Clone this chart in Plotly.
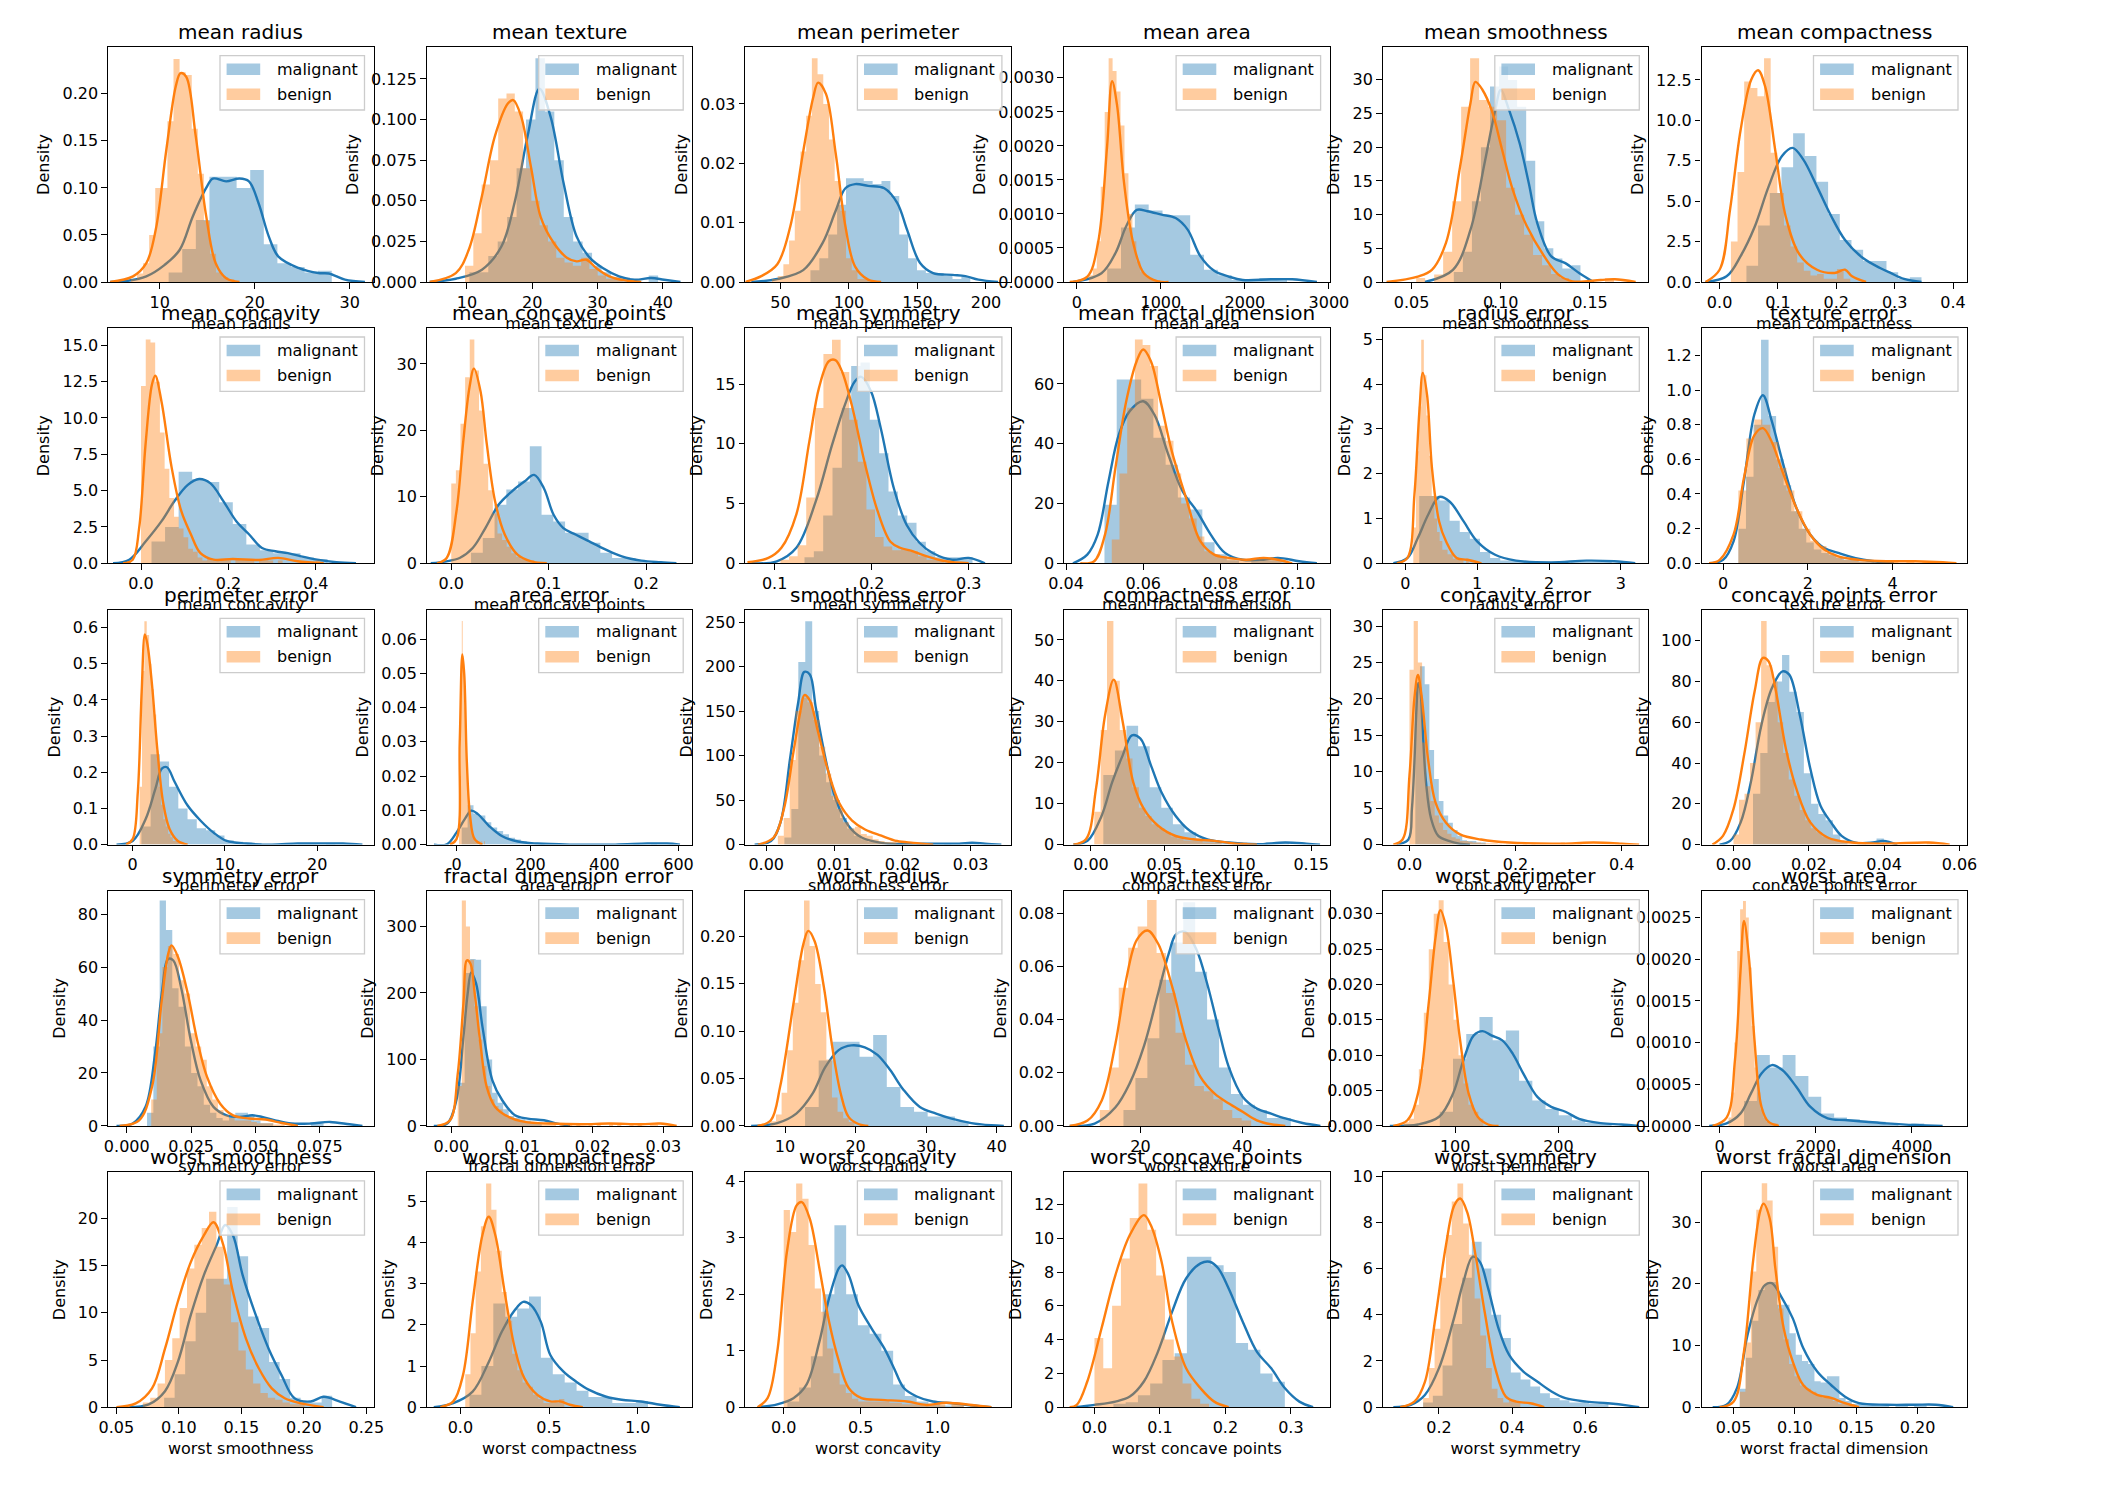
import plotly.graph_objects as go

# ---------------------------------------------------------------- data
FEATURES = ["mean radius", "mean texture", "mean perimeter", "mean area", "mean smoothness", "mean compactness",
            "mean concavity", "mean concave points", "mean symmetry", "mean fractal dimension", "radius error",
            "texture error", "perimeter error", "area error", "smoothness error", "compactness error",
            "concavity error", "concave points error", "symmetry error", "fractal dimension error", "worst radius",
            "worst texture", "worst perimeter", "worst area", "worst smoothness", "worst compactness",
            "worst concavity", "worst concave points", "worst symmetry", "worst fractal dimension"]
SERIES = ["malignant", "benign"]

# histogram bins (first edge, bin width) per feature
MAL_BIN_START = [10.95, 10.38, 71.9, 361.6, 0.0737, 0.046, 0.024, 0.0203, 0.1308, 0.04996,
                 0.1938, 0.362, 0.95, 14.0, 0.00267, 0.0084, 0.011, 0.00517, 0.00788, 0.00109,
                 12.84, 16.67, 85.1, 508.0, 0.0882, 0.0513, 0.024, 0.029, 0.1565, 0.055]
MAL_BIN_WIDTH = [1.43, 1.445, 6.48, 164.6, 0.00507, 0.02, 0.031, 0.01206, 0.00962, 0.00317,
                 0.141, 0.178, 1.0, 16.0, 0.00102, 0.0079, 0.00885, 0.00193, 0.00245, 0.00078,
                 1.93, 2.35, 12.8, 267.6, 0.0084, 0.0671, 0.0764, 0.0187, 0.0267, 0.00508]
BEN_BIN_START = [6.98, 9.71, 43.8, 143.5, 0.0526, 0.0194, 0.0, 0.0, 0.106, 0.05185,
                 0.1115, 0.36, 0.757, 6.8, 0.00171, 0.00225, 0.0, 0.0, 0.0095, 0.000895,
                 7.93, 12.02, 50.41, 185.0, 0.0712, 0.0273, 0.0, 0.0, 0.1566, 0.0552]
BEN_BIN_WIDTH = [0.64, 1.27, 4.16, 47.1, 0.00504, 0.01136, 0.0108, 0.00474, 0.00886, 0.002,
                 0.0367, 0.189, 0.257, 2.51, 0.00087, 0.00434, 0.00792, 0.001466, 0.00216, 0.000579,
                 0.793, 1.86, 4.8, 60.3, 0.00588, 0.0294, 0.0404, 0.01346, 0.01566, 0.00445]

# histogram densities: m = malignant, b = benign
m01 = [0.01, 0.035, 0.066, 0.112, 0.112, 0.10, 0.119, 0.04, 0.02, 0.016, 0.01, 0.012]
b01 = [0.003, 0.009, 0.02, 0.05, 0.1, 0.1, 0.171, 0.237, 0.223, 0.22, 0.163, 0.115, 0.065, 0.03, 0.01, 0.005, 0.003]
m02 = [0.006, 0.006, 0.016, 0.025, 0.04, 0.07, 0.10, 0.1377, 0.105, 0.075, 0.04, 0.025, 0.018, 0.01, 0.006, 0.003, 0.003, 0.0, 0.0, 0.004]
b02 = [0.01, 0.03, 0.06, 0.075, 0.113, 0.116, 0.105, 0.07, 0.05, 0.035, 0.025, 0.015, 0.012, 0.01, 0.015, 0.008, 0.004, 0.002, 0.002]
m03 = [0.002, 0.004, 0.008, 0.013, 0.0175, 0.0175, 0.017, 0.0165, 0.017, 0.0145, 0.008, 0.004, 0.002, 0.0015, 0.0015, 0.001, 0.0005, 0.001]
b03 = [0.0005, 0.001, 0.003, 0.007, 0.012, 0.022, 0.028, 0.0377, 0.035, 0.03, 0.024, 0.017, 0.012, 0.004, 0.002, 0.0005, 0.0005]
m04 = [0.0002, 0.0008, 0.00114, 0.00105, 0.00098, 0.00098, 0.0004, 0.00018, 0.0001, 0.00003, 0.00003, 0.00006, 0.00003]
b04 = [0.0001, 0.0002, 0.0006, 0.0014, 0.0025, 0.00329, 0.0031, 0.0028, 0.0023, 0.0016, 0.001, 0.0006, 0.0003, 0.00015, 0.0001, 0.00005, 0.00003, 0.00003]
m05 = [1.5, 4.5, 12, 20, 29, 32, 30, 26, 18, 9, 5, 3.5, 2, 2.5]
b05 = [0.6, 0, 1.1, 4.5, 12, 26, 33.2, 27, 26, 24, 14, 10, 7, 4, 2.5, 1.2, 0.6, 0, 0, 0, 0, 0.6]
m06 = [1.0, 3.5, 5.5, 7.1, 9.2, 7.8, 6.2, 4.2, 2.6, 2.0, 1.3, 1.3, 0.6, 0.2, 0.3]
b06 = [2.5, 6.8, 12.4, 12.0, 11.5, 13.84, 8.0, 5.5, 3.5, 2.2, 1.2, 0.7, 0.4, 0.5, 0.2, 0.2, 0.8, 0.2]
m07 = [1.5, 2.5, 6.3, 5.8, 5.6, 4.2, 2.7, 1.3, 0.9, 0.7, 0.7, 0.4, 0.3]
b07 = [12.2, 15.4, 15.2, 12.5, 9.0, 6.5, 4.5, 3.2, 2.4, 1.8, 1.0, 0.8, 0.4, 0.2, 0.3, 0.2, 0.2, 0.2, 0.2, 0.0,
       0.3, 0.2, 0.2, 0.2, 0.0, 0.2, 0.3, 0.2, 0, 0.2, 0, 0, 0, 0, 0, 0, 0, 0.2]
m08 = [1.6, 3.8, 8.8, 11.1, 12.3, 17.6, 7.3, 6.3, 4.6, 4.6, 3.1, 1.6, 0.8, 0.8, 0.4]
b08 = [12, 14, 21, 28, 33.7, 29, 23, 15, 11, 7.5, 4.5, 3.5, 2.5, 1.5, 1, 0.6, 0.5, 0.5]
m09 = [0.5, 1, 4, 8, 13, 16.5, 16.8, 12, 9.2, 6, 4, 3.4, 1.8, 1.0, 0.5, 0.5, 0.5, 0.5]
b09 = [0.3, 0.6, 1.5, 5.5, 13, 17.5, 18.7, 16, 12, 8.5, 4.5, 2.2, 1.4, 1.1, 1.2, 1.0, 0.6, 0.3, 0.3]
m10 = [19.6, 61.5, 61.5, 55, 42, 33, 22, 18, 7, 3, 1, 0, 1, 1, 1]
b10 = [8, 30, 52, 74.85, 73, 66, 46, 41, 30, 20, 15, 9, 4, 3, 2, 1.5, 1, 1, 1, 1.5, 2, 1]
m11 = [1.5, 1.5, 1.4, 0.95, 0.7, 0.55, 0.25, 0.12, 0.06, 0.06, 0.03, 0.0, 0.03, 0.0, 0.0, 0.03, 0.03, 0.03, 0.03]
b11 = [0.8, 2.5, 3.5, 4.99, 4.2, 3.3, 2.4, 1.5, 1.0, 0.7, 0.5, 0.3, 0.3, 0.2, 0.2, 0.1, 0.1, 0.1, 0.1, 0.0, 0.1]
m12 = [0.2, 0.5, 0.8, 1.29, 0.85, 0.6, 0.45, 0.3, 0.2, 0.12, 0.08, 0.06, 0.05, 0.03, 0.02, 0.02, 0.01, 0.02]
b12 = [0.42, 0.72, 0.83, 0.8, 0.7, 0.55, 0.42, 0.3, 0.2, 0.13, 0.1, 0.06, 0.04, 0.02, 0.02, 0.01, 0.01, 0.01,
       0.01, 0.01, 0, 0.01, 0, 0.01]
m13 = [0.05, 0.25, 0.23, 0.16, 0.1, 0.07, 0.045, 0.04, 0.025, 0.012, 0.008, 0.005, 0.004, 0, 0, 0, 0, 0.004, 0.004, 0, 0.004]
b13 = [0.16, 0.48, 0.618, 0.58, 0.5, 0.43, 0.36, 0.26, 0.16, 0.11, 0.07, 0.05, 0.03, 0.02, 0.01, 0.01, 0.01]
m14 = [0.005, 0.0115, 0.009, 0.0085, 0.0065, 0.005, 0.004, 0.003, 0.002, 0.0015, 0.001, 0.0005, 0.0003, 0.0003,
       0, 0, 0, 0, 0, 0, 0, 0, 0, 0, 0, 0, 0, 0, 0, 0.0003, 0, 0, 0.0003]
b14 = [0.01, 0.02, 0.045, 0.0653, 0.055, 0.05, 0.04, 0.035, 0.025, 0.015, 0.012, 0.008, 0.006, 0.004, 0.004, 0.003,
       0.002, 0.002, 0.001, 0.001, 0.001, 0, 0.001, 0, 0.001, 0, 0, 0.001]
m15 = [8, 40, 205, 251, 150, 100, 70, 50, 30, 18, 10, 6, 3, 2, 1, 1, 1, 0, 0, 1, 0, 0, 0, 1, 0, 0, 3, 1]
b15 = [10, 30, 95, 150, 165, 160, 140, 110, 80, 55, 40, 25, 18, 20, 12, 10, 6, 4, 3, 3, 1, 1, 1]
m16 = [17, 23, 29, 24, 14, 9, 5, 3, 1.5, 1, 0.5, 0.5, 0, 0, 0.5, 0.5]
b16 = [8, 28, 54.6, 40, 28, 21, 14, 9, 7, 5, 4, 3, 2, 1.5, 1, 1, 1, 0.5, 0.5, 0.5, 0, 0.5, 0, 0.5]
m17 = [22, 24.5, 22, 13, 9, 6, 4, 3, 2, 1.2, 0.6, 0.5, 0.5, 0.3, 0.3]
b17 = [24, 30.7, 25, 14, 8, 6, 4, 3, 2, 1.5, 1, 0.8, 0.5, 0.5, 0.4, 0.3, 0.3, 0.2, 0.2, 0.2, 0.2, 0.1, 0, 0.1, 0,
       0.1, 0, 0.1, 0, 0.1, 0, 0, 0, 0, 0, 0, 0.3, 0, 0, 0, 0.3, 0, 0, 0, 0, 0, 0, 0, 0, 0.3]
m18 = [25, 45, 70, 80, 93, 75, 65, 35, 20, 15, 12, 5, 2, 0, 0, 0, 0, 3]
b18 = [5, 22, 25, 40, 60, 109.7, 88, 80, 60, 45, 32, 24, 17, 12, 8, 6, 4, 3, 2, 2, 1, 1, 1, 1, 0, 0, 0, 1, 0, 0,
       0, 0, 0, 0, 0, 1]
m19 = [5, 30, 85.2, 74, 52, 45, 30, 20, 15, 8, 5, 3, 2, 4, 5, 5, 4, 2, 1, 1, 0, 0, 0, 0, 0, 0, 1, 1, 0]
b19 = [10, 35, 60, 68, 65, 55, 50, 35, 30, 25, 15, 10, 6, 4, 3, 2, 2, 2, 1.5, 1, 1, 1, 0.5, 0.5]
m20 = [65, 230, 251, 250, 180, 100, 50, 35, 25, 15, 12, 10, 8, 5, 5]
b20 = [60, 339, 300, 250, 180, 130, 90, 60, 40, 30, 25, 18, 12, 10, 8, 8, 5, 5, 4, 3, 3, 3, 3, 2, 0, 2, 0, 3, 0, 2,
       0, 0, 3, 0, 2, 0, 0, 3, 0, 2, 0, 0, 2, 0, 3, 0, 0, 2, 2, 0]
m21 = [0.02, 0.069, 0.089, 0.089, 0.073, 0.096, 0.041, 0.02, 0.015, 0.01, 0.01, 0.005]
b21 = [0.005, 0.012, 0.035, 0.08, 0.13, 0.175, 0.238, 0.19, 0.15, 0.12, 0.07, 0.03, 0.015, 0.008, 0.004]
m22 = [0.006, 0.018, 0.033, 0.055, 0.069, 0.0841, 0.058, 0.04, 0.022, 0.012, 0.008, 0.006, 0.003, 0.003]
b22 = [0.006, 0.022, 0.052, 0.067, 0.075, 0.085, 0.065, 0.05, 0.035, 0.023, 0.015, 0.013, 0.01, 0.006, 0.003, 0.002]
m23 = [0.002, 0.0095, 0.013, 0.0154, 0.0121, 0.0135, 0.0064, 0.0036, 0.0024, 0.0015, 0.0008, 0.0004, 0.0004]
b23 = [0.0005, 0.001, 0.003, 0.008, 0.016, 0.025, 0.03, 0.0319, 0.026, 0.02, 0.015, 0.01, 0.006, 0.003, 0.002, 0.001]
m24 = [0.0003, 0.00085, 0.0007, 0.00085, 0.0006, 0.00035, 0.00015, 0.0001, 0.00008, 0.00005, 0.00005, 0.00003, 0, 0.00003]
b24 = [0.0001, 0.0004, 0.001, 0.0021, 0.0026, 0.0027, 0.0025, 0.0019, 0.0012, 0.0007, 0.0004, 0.0002, 0.0001,
       0.00005, 0.00003, 0.00003, 0.00003]
m25 = [1.0, 3.5, 7, 10, 13.6, 13.6, 21.2, 16, 9.6, 8.4, 4.8, 3, 1, 0.5, 0.5, 1.2]
b25 = [0.5, 1, 2.5, 5, 7.3, 10.5, 14.7, 17.2, 19, 20.7, 17, 13, 9, 6, 4, 2.5, 1.5, 1, 0.8, 0.5, 0.3, 0.3]
m26 = [0.3, 1.0, 2.52, 2.2, 2.4, 2.69, 1.2, 0.8, 0.6, 0.4, 0.25, 0.25, 0.1, 0.1, 0.15]
b26 = [0.8, 1.8, 3.3, 4.4, 5.44, 4.8, 3.8, 2.8, 2.1, 1.3, 0.9, 0.6, 0.5, 0.3, 0.2, 0.1, 0.1, 0.1, 0.2]
m27 = [0.1, 0.35, 0.9, 2.0, 3.22, 2.0, 1.45, 1.3, 1.0, 0.4, 0.2, 0.1, 0.06, 0.03, 0.03]
b27 = [3.49, 3.1, 3.96, 3.69, 2.87, 2.1, 1.69, 1.04, 0.6, 0.4, 0.25, 0.15, 0.1, 0.1, 0.1, 0.1, 0.1, 0.08, 0.08,
       0.05, 0.05, 0.05, 0.05, 0.05, 0.05, 0.05, 0, 0.05, 0.05, 0, 0.05]
m28 = [0.2, 0.3, 0.7, 1.4, 2.8, 3.2, 8.9, 8.9, 8.4, 8.0, 3.8, 3.4, 2.0, 1.5]
b28 = [4.1, 2.3, 6.0, 8.8, 11.2, 13.24, 10.5, 7.8, 4.0, 3.0, 1.4, 0.5, 0.2]
m29 = [0.2, 0.5, 1.8, 3.6, 5.6, 7.16, 6.0, 4.0, 3.0, 1.5, 1.2, 0.9, 0.6, 0.4, 0.3, 0.2, 0.2, 0.15, 0.2]
b29 = [0.4, 1.7, 3.4, 5.6, 7.45, 8.9, 9.68, 7.95, 6.6, 4.7, 3.1, 1.7, 0.8, 0.4, 0.2, 0.3, 0.2]
m30 = [3, 8, 14, 19, 20, 20.3, 16.6, 16.6, 12, 8.5, 7.5, 7, 4.2, 4, 5, 5, 1.5, 1, 0.5, 0.5, 0.5, 0.5, 0.5, 0.5, 0,
       0.5, 0.5, 0, 0.5, 0.5]
b30 = [2.5, 10.5, 22, 32, 36.3, 33.5, 26, 16, 11, 7, 5, 3.5, 3, 2.5, 2, 1.5, 1.5, 1, 0.5, 0.5, 0.5]

# KDE curves as (x, density) points: mk = malignant, bk = benign
mk01 = [[4.8, 0], [6.5, 0.001], [8.6, 0.006], [10.5, 0.018], [12.1, 0.034], [13.5, 0.07], [14.9, 0.10], [15.6, 0.11],
        [17, 0.107], [18.4, 0.11], [19.4, 0.107], [20.4, 0.084], [21.5, 0.048], [22.5, 0.027], [24.6, 0.015],
        [26.7, 0.0095], [27.8, 0.009], [29.5, 0.0025], [31.6, 0]]
bk01 = [[4.8, 0], [7.2, 0.006], [8.6, 0.02], [9.6, 0.056], [10.7, 0.14], [11.7, 0.208], [12.2, 0.222], [12.8, 0.218],
        [13.8, 0.155], [14.9, 0.07], [15.9, 0.02], [17, 0.004], [18.4, 0]]
mk02 = [[4.3, 0], [8.3, 0.002], [12.3, 0.0076], [15.3, 0.022], [17.3, 0.049], [19.3, 0.09], [21.1, 0.119], [22.8, 0.102],
        [24.8, 0.061], [26.8, 0.028], [28.8, 0.015], [30.8, 0.0086], [33.3, 0.0035], [35.7, 0.0014], [38.2, 0.0025],
        [40.2, 0.0014], [42.7, 0]]
bk02 = [[4.3, 0], [8.3, 0.0055], [10.3, 0.02], [12.3, 0.053], [14.3, 0.09], [16.3, 0.11], [17.1, 0.112], [18.3, 0.102],
        [19.8, 0.071], [21.3, 0.04], [23.3, 0.024], [25.3, 0.015], [26.8, 0.0127], [28.3, 0.0137], [29.8, 0.0086],
        [31.8, 0.0035], [34.2, 0.001], [36.7, 0]]
mk03 = [[28.7, 0], [47.7, 0.0005], [66.6, 0.002], [80.8, 0.0066], [90.3, 0.012], [97.4, 0.0158], [104.5, 0.0165],
        [114, 0.0162], [125.8, 0.0158], [135.3, 0.0133], [142.4, 0.0088], [151.9, 0.0032], [161.4, 0.0015],
        [175.6, 0.0012], [185, 0.001], [194.5, 0.0004], [208.8, 0]]
bk03 = [[24, 0], [36, 0.001], [47.7, 0.003], [57.2, 0.0094], [66.6, 0.022], [73.8, 0.031], [77.5, 0.0336],
        [83.2, 0.0317], [90.3, 0.0217], [97.4, 0.0094], [104.5, 0.0026], [114, 0.0004], [123.5, 0]]
mk04 = [[-42, 0], [294, 0.00013], [462, 0.00043], [588, 0.00082], [714, 0.00106], [840, 0.00104], [1008, 0.00099],
        [1176, 0.00094], [1319, 0.00077], [1470, 0.00038], [1639, 0.00016], [1807, 0.00008], [1975, 0.00003],
        [2311, 0.00004], [2563, 0.00004], [2857, 0]]
bk04 = [[-84, 0], [126, 0.00008], [252, 0.00057], [361, 0.002], [420, 0.00295], [479, 0.0026], [563, 0.00145],
        [672, 0.00057], [798, 0.00013], [966, 0.00001], [1092, 0]]
mk05 = [[0.0575, 0], [0.0732, 1.8], [0.0831, 7.8], [0.0909, 17.6], [0.0969, 25.5], [0.1, 28.5], [0.1047, 25.5],
        [0.1106, 20.6], [0.1157, 14.7], [0.1205, 8.7], [0.1283, 3.8], [0.1362, 2.8], [0.1441, 1.3], [0.152, 0]]
bk05 = [[0.036, 0], [0.0535, 0.8], [0.0614, 1.8], [0.0693, 5.8], [0.0772, 17.1], [0.083, 26.5], [0.0858, 29.7],
        [0.0898, 28.5], [0.0949, 25.5], [0.1008, 19.6], [0.1067, 13.7], [0.1146, 8.3], [0.1244, 3.8], [0.1323, 1.1],
        [0.1402, 0.1], [0.156, 0.3], [0.164, 0.4], [0.1756, 0]]
mk06 = [[-0.024, 0], [0.012, 0.35], [0.036, 1.6], [0.06, 3.4], [0.084, 5.9], [0.107, 7.8], [0.125, 8.3], [0.143, 7.6],
        [0.167, 5.9], [0.191, 4.1], [0.215, 2.6], [0.245, 1.5], [0.275, 0.87], [0.293, 0.56], [0.316, 0.19], [0.346, 0]]
bk06 = [[-0.024, 0], [0.0, 0.76], [0.018, 4.5], [0.036, 9.4], [0.054, 12.5], [0.066, 13.1], [0.078, 12.1], [0.096, 8.0],
        [0.113, 4.1], [0.137, 1.7], [0.167, 0.76], [0.197, 0.56], [0.215, 0.76], [0.227, 0.35], [0.251, 0]]
mk07 = [[-0.064, 0], [-0.027, 0.25], [0.0104, 1.5], [0.047, 2.9], [0.077, 4.3], [0.107, 5.4], [0.133, 5.8],
        [0.159, 5.5], [0.188, 4.3], [0.218, 2.9], [0.247, 2.0], [0.277, 1.05], [0.307, 0.83], [0.336, 0.7],
        [0.366, 0.48], [0.403, 0.25], [0.447, 0.07], [0.492, 0]]
bk07 = [[-0.041, 0], [-0.019, 0.25], [-0.0044, 2.4], [0.0104, 8.2], [0.025, 12.3], [0.0326, 12.9], [0.047, 11.1],
        [0.07, 6.6], [0.092, 3.6], [0.114, 2.0], [0.136, 0.7], [0.166, 0.25], [0.21, 0.3], [0.27, 0.23], [0.314, 0.37],
        [0.358, 0.14], [0.418, 0]]
mk08 = [[-0.021, 0], [-0.005, 0.3], [0.0086, 0.8], [0.022, 2.3], [0.035, 5.3], [0.0485, 8.8], [0.062, 10.8],
        [0.075, 12.3], [0.085, 13.3], [0.095, 11.3], [0.105, 7.3], [0.115, 5.3], [0.128, 4.3], [0.1415, 3.3],
        [0.158, 2.1], [0.175, 1.05], [0.195, 0.4], [0.215, 0.15], [0.231, 0]]
bk08 = [[-0.0146, 0], [-0.0047, 0.8], [0.0053, 7.8], [0.012, 17.9], [0.0186, 26.4], [0.0233, 29.3], [0.03, 25.9],
        [0.0365, 17.9], [0.045, 9.3], [0.055, 4.3], [0.068, 1.3], [0.082, 0.3], [0.098, 0]]
mk09 = [[0.076, 0], [0.1023, 0.17], [0.1224, 1.3], [0.1425, 5.2], [0.1592, 9.9], [0.1726, 13.3], [0.1826, 15.2],
        [0.1893, 15.6], [0.1993, 14.4], [0.2094, 11.3], [0.2228, 6.3], [0.2361, 3.2], [0.2495, 1.7], [0.2629, 0.86],
        [0.283, 0.3], [0.3, 0.45], [0.3167, 0]]
bk09 = [[0.072, 0.1], [0.0936, 0.45], [0.107, 1.3], [0.1224, 4.1], [0.1358, 10.2], [0.1458, 14.7], [0.1559, 16.9],
        [0.1626, 17.0], [0.1692, 16.1], [0.1793, 13.3], [0.1926, 8.5], [0.206, 4.4], [0.2194, 1.8], [0.2294, 1.3],
        [0.2428, 1.0], [0.2562, 0.6], [0.2763, 0.17], [0.3, 0]]
mk10 = [[0.0418, 0], [0.0455, 2.9], [0.0482, 9.6], [0.051, 27.4], [0.0537, 43.1], [0.0565, 50.9], [0.06, 54.2],
        [0.0629, 49.7], [0.0665, 36.4], [0.0702, 24.1], [0.0739, 17.4], [0.0775, 9.6], [0.0812, 3.5], [0.0857, 1.2],
        [0.0912, 1.2], [0.0949, 1.8], [0.1004, 0.7], [0.105, 0]]
bk10 = [[0.0437, 0], [0.0473, 0.7], [0.0501, 9.6], [0.0528, 31.9], [0.0556, 54.2], [0.0583, 67.6], [0.06, 71.5],
        [0.062, 67.6], [0.0647, 53.1], [0.0674, 37.5], [0.0711, 21.9], [0.0748, 7.4], [0.0784, 2.9], [0.0821, 1.8],
        [0.0867, 1.2], [0.0912, 1.8], [0.0949, 1.2], [0.0986, 0]]
mk11 = [[-0.166, 0], [0.03, 0.12], [0.176, 0.57], [0.32, 1.09], [0.47, 1.48], [0.616, 1.38], [0.81, 0.94], [1.0, 0.49],
        [1.25, 0.19], [1.54, 0.06], [2.03, 0.02], [2.52, 0.06], [2.91, 0.045], [3.2, 0]]
bk11 = [[-0.117, 0], [0.03, 0.12], [0.127, 1.53], [0.196, 3.39], [0.244, 4.25], [0.303, 3.76], [0.371, 2.13],
        [0.47, 0.94], [0.567, 0.49], [0.714, 0.12], [0.86, 0.08], [1.06, 0]]
mk12 = [[-0.33, 0], [0, 0.02], [0.247, 0.127], [0.49, 0.47], [0.74, 0.86], [0.94, 0.97], [1.15, 0.82], [1.4, 0.59],
        [1.73, 0.32], [2.06, 0.165], [2.39, 0.088], [2.72, 0.06], [3.13, 0.03], [3.54, 0.012], [4.03, 0]]
bk12 = [[-0.33, 0], [-0.08, 0.02], [0.247, 0.165], [0.49, 0.49], [0.74, 0.74], [0.94, 0.78], [1.15, 0.70], [1.4, 0.53],
        [1.73, 0.32], [2.06, 0.165], [2.39, 0.079], [2.72, 0.04], [3.21, 0.02], [3.87, 0.012], [4.53, 0.012],
        [5.19, 0.006], [5.51, 0]]
mk13 = [[-1.75, 0], [0, 0.01], [1.4, 0.07], [2.46, 0.154], [3.16, 0.21], [3.72, 0.214], [4.56, 0.173], [5.96, 0.108],
        [7.37, 0.066], [8.77, 0.033], [10.2, 0.01], [12.3, 0.003], [15.1, 0], [17.9, 0.003], [20.7, 0.003],
        [22.8, 0.003], [24.9, 0]]
bk13 = [[-0.7, 0], [0, 0.015], [0.56, 0.145], [0.98, 0.423], [1.33, 0.581], [1.61, 0.553], [2.1, 0.442], [2.67, 0.265],
        [3.3, 0.117], [4.0, 0.043], [4.9, 0.01], [5.96, 0]]
mk14 = [[-61, 0], [-26, 0.0001], [0, 0.0035], [22.7, 0.0075], [40, 0.0099], [57.7, 0.0089], [87.5, 0.0055],
        [122.5, 0.0025], [166, 0.0009], [219, 0.0003], [306, 0], [429, 0], [516, 0.0003], [569, 0.0003], [604, 0]]
bk14 = [[-17.5, 0], [0, 0.0016], [8.75, 0.03], [15.75, 0.0555], [21, 0.0496], [28, 0.0241], [36.7, 0.0084],
        [49, 0.0016], [70, 0]]
mk15 = [[-0.0017, 0], [0.0007, 4], [0.0021, 25], [0.0035, 96.5], [0.0047, 160], [0.0056, 194], [0.0064, 191],
        [0.0073, 153], [0.0088, 93], [0.0102, 51], [0.0121, 21], [0.014, 8], [0.0169, 2], [0.0207, 0.8], [0.0245, 1],
        [0.0283, 1], [0.0302, 2], [0.0321, 1], [0.0345, 0]]
bk15 = [[-0.0012, 0], [0.0011, 8], [0.0026, 40], [0.004, 104], [0.005, 149], [0.0056, 168], [0.0064, 162],
        [0.0075, 130], [0.009, 85], [0.0107, 47], [0.0126, 27], [0.0145, 17], [0.0169, 10], [0.0192, 4], [0.0216, 2],
        [0.0245, 0]]
mk16 = [[-0.012, 0], [-0.0024, 0.9], [0.0072, 7], [0.0144, 15.2], [0.0216, 21.8], [0.0279, 26.7], [0.0337, 25.9],
        [0.0409, 19.3], [0.048, 12.8], [0.0577, 7], [0.0673, 3.4], [0.0793, 1.3], [0.0938, 0.5], [0.113, 0.1],
        [0.1322, 0.5], [0.1466, 0.25], [0.156, 0]]
bk16 = [[-0.012, 0], [-0.0034, 1.3], [0.0034, 13.6], [0.0096, 31.6], [0.0155, 40.3], [0.0216, 30], [0.0288, 15.2],
        [0.036, 8.7], [0.0457, 4.6], [0.0577, 2.1], [0.0697, 1.3], [0.0841, 0.9], [0.0986, 0.25], [0.113, 0]]
mk17 = [[-0.024, 0], [-0.002, 0.7], [0.0046, 4.9], [0.0093, 11.3], [0.0132, 18.7], [0.0166, 22.2], [0.02, 21.5],
        [0.0245, 16.4], [0.0311, 8.6], [0.041, 3.5], [0.0543, 1.2], [0.0742, 0.5], [0.094, 0.14], [0.114, 0]]
bk17 = [[-0.0305, 0], [-0.013, 0.7], [0, 9.5], [0.0093, 20.1], [0.0159, 23.3], [0.0225, 20.6], [0.0358, 11.3],
        [0.049, 5.8], [0.0689, 3.0], [0.0954, 1.4], [0.135, 0.7], [0.188, 0.28], [0.294, 0.14], [0.347, 0.28],
        [0.4, 0.14], [0.433, 0]]
mk18 = [[-0.0037, 0], [-0.0009, 1.8], [0.0019, 10.9], [0.0046, 30.6], [0.0074, 58.6], [0.0102, 76.8], [0.013, 85],
        [0.0148, 83.4], [0.0176, 63.6], [0.0204, 37.2], [0.0231, 19.1], [0.0259, 10.9], [0.0287, 4.3], [0.0324, 1],
        [0.037, 1], [0.0398, 1.8], [0.0435, 0]]
bk18 = [[-0.0056, 0], [-0.0028, 4.3], [0, 17.5], [0.0028, 43.8], [0.0056, 75.1], [0.0078, 91.6], [0.0093, 90],
        [0.0111, 76.8], [0.0139, 47.1], [0.0167, 27.3], [0.0204, 10.9], [0.025, 3.5], [0.0315, 1], [0.0407, 0.5],
        [0.0519, 1], [0.0574, 0]]
mk19 = [[-0.004, 0], [0.0023, 0.9], [0.0073, 7.2], [0.011, 27.3], [0.0136, 50], [0.0161, 63.1], [0.0181, 62.5],
        [0.0211, 52.4], [0.0249, 32.3], [0.0287, 17.2], [0.0337, 7.2], [0.0388, 4.0], [0.0438, 3.4], [0.0488, 4],
        [0.0526, 3.4], [0.0577, 2.1], [0.064, 0.9], [0.0715, 0.9], [0.079, 1.5], [0.0866, 0.6], [0.0916, 0]]
bk19 = [[-0.0028, 0], [0.0048, 2.1], [0.0098, 14.7], [0.0136, 47.4], [0.0161, 65], [0.0174, 68.2], [0.0199, 63.8],
        [0.0237, 50], [0.0274, 32.3], [0.0312, 18.5], [0.0363, 8.4], [0.0413, 4.0], [0.0476, 2.8], [0.0539, 2.4],
        [0.0602, 1.1], [0.0665, 0]]
mk20 = [[-0.0025, 0], [-0.0006, 3.5], [0.0007, 38.6], [0.0017, 134], [0.0023, 199], [0.0028, 231], [0.0035, 214],
        [0.0044, 149], [0.0058, 68.6], [0.0072, 38.6], [0.009, 16], [0.0108, 11], [0.0131, 8.5], [0.015, 3.5],
        [0.0168, 0]]
bk20 = [[-0.002, 0], [-0.0002, 8.5], [0.0009, 78.6], [0.0017, 184], [0.0022, 249], [0.0027, 244], [0.0033, 199],
        [0.0041, 124], [0.005, 58.6], [0.0062, 28.5], [0.0081, 13.5], [0.0104, 6], [0.014, 3.5], [0.0186, 2.5],
        [0.0223, 3.5], [0.0269, 2.5], [0.0296, 3.5], [0.0319, 0]]
mk21 = [[5.2, 0], [8.9, 0.003], [11.6, 0.013], [13.9, 0.034], [15.7, 0.062], [17.6, 0.08], [19.4, 0.085], [21.3, 0.083],
        [23.1, 0.075], [24.9, 0.059], [26.8, 0.038], [29.1, 0.02], [31.4, 0.013], [33.6, 0.0077], [36.4, 0.003],
        [39.2, 0.0007], [41, 0]]
bk21 = [[6.1, 0], [8.0, 0.006], [9.3, 0.041], [11.2, 0.129], [12.6, 0.192], [13.3, 0.206], [14.2, 0.195],
        [15.5, 0.147], [16.7, 0.083], [17.9, 0.034], [19, 0.0095], [20.4, 0.002], [21.8, 0]]
mk22 = [[6.1, 0], [11, 0.0009], [15.1, 0.007], [17.9, 0.016], [20.7, 0.03], [23.5, 0.05], [25.6, 0.065], [27, 0.072],
        [28.8, 0.073], [31.1, 0.066], [33.2, 0.053], [35.3, 0.037], [37.4, 0.022], [40.1, 0.011], [42.9, 0.0065],
        [45.7, 0.0046], [48.5, 0.0028], [51.9, 0.0011], [55.4, 0]]
bk22 = [[6.1, 0], [9.6, 0.002], [12.4, 0.0096], [15.1, 0.031], [17.2, 0.055], [19.3, 0.07], [21.4, 0.0735],
        [23.5, 0.0685], [26.3, 0.052], [29, 0.032], [31.8, 0.0184], [34.6, 0.0121], [37.4, 0.0084], [40.1, 0.0053],
        [42.9, 0.0021], [45.7, 0.0006], [48.5, 0]]
mk23 = [[36.7, 0], [64, 0.0002], [84.4, 0.0013], [98, 0.0046], [108, 0.0093], [118, 0.0128], [126.5, 0.0134],
        [135, 0.0128], [145.6, 0.0121], [155.8, 0.0102], [166, 0.0074], [179.6, 0.0041], [193, 0.0027],
        [206.8, 0.002], [220, 0.001], [240.8, 0.0004], [261, 0.0002], [278, 0]]
bk23 = [[40, 0], [53.7, 0.0008], [64, 0.0046], [74.1, 0.017], [81, 0.0267], [85.7, 0.0305], [91.2, 0.0281],
        [98, 0.0206], [104.8, 0.0121], [113, 0.0046], [121.8, 0.0013], [132, 0.0002], [142, 0]]
mk24 = [[-217, 0], [145, 0.00003], [435, 0.00015], [652, 0.00039], [870, 0.00063], [1087, 0.00073], [1304, 0.00067],
        [1594, 0.00047], [1884, 0.00023], [2246, 0.00009], [2609, 0.00007], [3043, 0.00005], [3478, 0.00003],
        [4058, 0.00001], [4638, 0]]
bk24 = [[-145, 0], [145, 0.0001], [319, 0.00079], [435, 0.00186], [507, 0.00246], [609, 0.00202], [725, 0.00103],
        [870, 0.00023], [1014, 0.00005], [1232, 0]]
mk25 = [[0.0604, 0], [0.0759, 0.3], [0.0889, 1.7], [0.0992, 4.8], [0.1096, 9.8], [0.12, 14], [0.1303, 17.2],
        [0.137, 19.3], [0.1433, 18.2], [0.151, 14], [0.1614, 9.8], [0.1718, 6.2], [0.1821, 3.4], [0.1925, 0.95],
        [0.2055, 0.6], [0.2158, 1.1], [0.2288, 0.6], [0.2417, 0]]
bk25 = [[0.05, 0], [0.0655, 0.4], [0.0785, 2], [0.0889, 6.2], [0.0992, 11.2], [0.1096, 15.4], [0.12, 18.2],
        [0.1277, 19.6], [0.1355, 17.2], [0.1433, 12.2], [0.1536, 7.3], [0.164, 4.1], [0.1743, 2], [0.1847, 0.95],
        [0.1977, 0.4], [0.2158, 0]]
mk26 = [[-0.15, 0], [-0.04, 0.1], [0.069, 0.38], [0.16, 1.1], [0.234, 1.84], [0.307, 2.36], [0.354, 2.56],
        [0.398, 2.48], [0.453, 2.08], [0.507, 1.27], [0.58, 0.87], [0.653, 0.62], [0.726, 0.42], [0.818, 0.26],
        [0.909, 0.18], [1.018, 0.14], [1.128, 0.06], [1.237, 0]]
bk26 = [[-0.113, 0], [-0.04, 0.14], [0.0146, 0.78], [0.069, 2.56], [0.124, 4.18], [0.16, 4.63], [0.197, 4.18],
        [0.252, 2.73], [0.307, 1.43], [0.361, 0.7], [0.434, 0.3], [0.507, 0.14], [0.562, 0.14], [0.617, 0.06],
        [0.69, 0]]
mk27 = [[-0.169, 0], [-0.042, 0.05], [0.063, 0.16], [0.148, 0.4], [0.232, 1.16], [0.295, 1.93], [0.359, 2.46],
        [0.38, 2.51], [0.422, 2.34], [0.485, 1.81], [0.57, 1.4], [0.654, 1.04], [0.717, 0.69], [0.781, 0.34],
        [0.865, 0.19], [0.97, 0.1], [1.097, 0.07], [1.224, 0.03], [1.35, 0]]
bk27 = [[-0.17, 0], [-0.105, 0.16], [-0.042, 0.98], [0.021, 2.75], [0.084, 3.57], [0.118, 3.63], [0.169, 3.34],
        [0.232, 2.46], [0.295, 1.51], [0.359, 0.81], [0.422, 0.34], [0.506, 0.16], [0.633, 0.13], [0.802, 0.1],
        [0.928, 0.04], [1.055, 0.08], [1.224, 0.04], [1.35, 0]]
mk28 = [[-0.032, 0], [0, 0.14], [0.032, 0.33], [0.054, 0.63], [0.0755, 1.52], [0.097, 3.29], [0.1187, 5.66],
        [0.14, 7.62], [0.162, 8.51], [0.176, 8.61], [0.189, 8.22], [0.205, 7.03], [0.2265, 5.06], [0.248, 3.29],
        [0.27, 2.3], [0.291, 1.12], [0.313, 0.33], [0.334, 0]]
bk28 = [[-0.038, 0], [-0.027, 0.14], [-0.011, 1.52], [0.0108, 4.67], [0.032, 7.82], [0.054, 10.19], [0.0755, 11.37],
        [0.086, 10.78], [0.1025, 8.61], [0.1187, 5.06], [0.14, 2.3], [0.162, 1.12], [0.183, 0.33], [0.205, 0]]
mk29 = [[0.075, 0], [0.123, 0.1], [0.1615, 0.53], [0.2, 1.69], [0.2385, 3.7], [0.267, 5.43], [0.292, 6.51],
        [0.3115, 6.3], [0.3346, 5.14], [0.363, 3.41], [0.392, 2.26], [0.431, 1.54], [0.469, 1.11], [0.508, 0.68],
        [0.546, 0.39], [0.604, 0.24], [0.662, 0.17], [0.719, 0.07], [0.748, 0]]
bk29 = [[0.094, 0], [0.1327, 0.24], [0.1615, 1.1], [0.19, 3.85], [0.219, 7.0], [0.242, 8.74], [0.258, 9.03],
        [0.277, 8.45], [0.3, 6.58], [0.325, 4.13], [0.354, 1.69], [0.383, 0.46], [0.4115, 0.24], [0.45, 0.17],
        [0.488, 0]]
mk30 = [[0.033, 0], [0.0443, 0.4], [0.0528, 3.1], [0.0614, 11.7], [0.0699, 17.6], [0.0756, 19.8], [0.0812, 20.1],
        [0.0898, 17.6], [0.0983, 14.4], [0.1068, 9.6], [0.1182, 5.8], [0.1295, 3.6], [0.1409, 1.7], [0.1523, 0.65],
        [0.175, 0.4], [0.1977, 0.4], [0.2148, 0.4], [0.229, 0]]
bk30 = [[0.0386, 0], [0.05, 0.9], [0.0585, 9.0], [0.0659, 23.6], [0.0716, 31.7], [0.0744, 33.0], [0.0795, 30.6],
        [0.0841, 22.5], [0.0909, 12.8], [0.0983, 7.4], [0.1068, 3.6], [0.1182, 2.0], [0.1295, 1.5], [0.1409, 0.65],
        [0.1523, 0]]

MAL_HEIGHTS = [m01, m02, m03, m04, m05, m06, m07, m08, m09, m10, m11, m12, m13, m14, m15,
               m16, m17, m18, m19, m20, m21, m22, m23, m24, m25, m26, m27, m28, m29, m30]
BEN_HEIGHTS = [b01, b02, b03, b04, b05, b06, b07, b08, b09, b10, b11, b12, b13, b14, b15,
               b16, b17, b18, b19, b20, b21, b22, b23, b24, b25, b26, b27, b28, b29, b30]
MAL_KDE = [mk01, mk02, mk03, mk04, mk05, mk06, mk07, mk08, mk09, mk10, mk11, mk12, mk13, mk14, mk15,
           mk16, mk17, mk18, mk19, mk20, mk21, mk22, mk23, mk24, mk25, mk26, mk27, mk28, mk29, mk30]
BEN_KDE = [bk01, bk02, bk03, bk04, bk05, bk06, bk07, bk08, bk09, bk10, bk11, bk12, bk13, bk14, bk15,
           bk16, bk17, bk18, bk19, bk20, bk21, bk22, bk23, bk24, bk25, bk26, bk27, bk28, bk29, bk30]

# axis limits and tick labels
X_RANGE = [[4.57, 32.5], [3.84, 44.5], [24.4, 218.2], [-151, 3008], [0.0339, 0.1827], [-0.031, 0.424],
           [-0.0756, 0.532], [-0.0252, 0.2472], [0.0699, 0.3435], [0.0395, 0.1083], [-0.313, 3.382], [-0.51, 5.76],
           [-2.67, 26.1], [-80.5, 637], [-0.00305, 0.0359], [-0.0183, 0.1625], [-0.0503, 0.4503], [-0.0085, 0.062],
           [-0.0073, 0.0959], [-0.0035, 0.0341], [4.39, 42.0], [5.0, 57.2], [29.9, 287], [-377, 5145],
           [0.0433, 0.2557], [-0.19, 1.307], [-0.249, 1.477], [-0.0464, 0.3592], [0.0462, 0.773], [0.0239, 0.2403]]
Y_MAX = [0.2498, 0.1447, 0.0396, 0.003454, 34.88, 14.54, 16.17, 35.37, 19.66, 78.6,
         5.246, 1.356, 0.65, 0.0686, 264, 57.4, 32.26, 115.3, 88.8, 353.5,
         0.2482, 0.0884, 0.03324, 0.00282, 24.9, 5.712, 4.158, 13.91, 10.17, 38.1]
X_TICKS = [[10, 20, 30], [10, 20, 30, 40], [50, 100, 150, 200], [0, 1000, 2000, 3000], [0.05, 0.10, 0.15],
           [0, 0.1, 0.2, 0.3, 0.4], [0, 0.2, 0.4], [0, 0.1, 0.2], [0.1, 0.2, 0.3], [0.04, 0.06, 0.08, 0.10],
           [0, 1, 2, 3], [0, 2, 4], [0, 10, 20], [0, 200, 400, 600], [0, 0.01, 0.02, 0.03],
           [0, 0.05, 0.10, 0.15], [0, 0.2, 0.4], [0, 0.02, 0.04, 0.06], [0, 0.025, 0.05, 0.075], [0, 0.01, 0.02, 0.03],
           [10, 20, 30, 40], [20, 40], [100, 200], [0, 2000, 4000], [0.05, 0.10, 0.15, 0.20, 0.25],
           [0, 0.5, 1.0], [0, 0.5, 1.0], [0, 0.1, 0.2, 0.3], [0.2, 0.4, 0.6], [0.05, 0.10, 0.15, 0.20]]
X_FMT = [".0f", ".0f", ".0f", ".0f", ".2f", ".1f", ".1f", ".1f", ".1f", ".2f",
         ".0f", ".0f", ".0f", ".0f", ".2f", ".2f", ".1f", ".2f", ".3f", ".2f",
         ".0f", ".0f", ".0f", ".0f", ".2f", ".1f", ".1f", ".1f", ".1f", ".2f"]
Y_TICKS = [[0, 0.05, 0.10, 0.15, 0.20], [0, 0.025, 0.05, 0.075, 0.1, 0.125], [0, 0.01, 0.02, 0.03],
           [0, 0.0005, 0.001, 0.0015, 0.002, 0.0025, 0.003], [0, 5, 10, 15, 20, 25, 30],
           [0, 2.5, 5, 7.5, 10, 12.5], [0, 2.5, 5, 7.5, 10, 12.5, 15], [0, 10, 20, 30], [0, 5, 10, 15], [0, 20, 40, 60],
           [0, 1, 2, 3, 4, 5], [0, 0.2, 0.4, 0.6, 0.8, 1.0, 1.2], [0, 0.1, 0.2, 0.3, 0.4, 0.5, 0.6],
           [0, 0.01, 0.02, 0.03, 0.04, 0.05, 0.06], [0, 50, 100, 150, 200, 250],
           [0, 10, 20, 30, 40, 50], [0, 5, 10, 15, 20, 25, 30], [0, 20, 40, 60, 80, 100], [0, 20, 40, 60, 80],
           [0, 100, 200, 300], [0, 0.05, 0.10, 0.15, 0.20], [0, 0.02, 0.04, 0.06, 0.08],
           [0, 0.005, 0.01, 0.015, 0.02, 0.025, 0.03], [0, 0.0005, 0.001, 0.0015, 0.002, 0.0025],
           [0, 5, 10, 15, 20], [0, 1, 2, 3, 4, 5], [0, 1, 2, 3, 4], [0, 2, 4, 6, 8, 10, 12], [0, 2, 4, 6, 8, 10],
           [0, 10, 20, 30]]
Y_FMT = [".2f", ".3f", ".2f", ".4f", ".0f", ".1f", ".1f", ".0f", ".0f", ".0f",
         ".0f", ".1f", ".1f", ".2f", ".0f", ".0f", ".0f", ".0f", ".0f", ".0f",
         ".2f", ".2f", ".3f", ".4f", ".0f", ".0f", ".0f", ".0f", ".0f", ".0f"]

# ---------------------------------------------------------------- style / layout
PAGE_W, PAGE_H = 2104, 1502
OFF = 8                      # browser body margin around the plot div
W, H = PAGE_W - 2 * OFF, PAGE_H - 2 * OFF
COL0, COL_STEP, AX_W = 108.0, 318.7, 265.5
ROW0, ROW_STEP, AX_H = 47.0, 281.3, 235.0
BLUE, ORANGE = "rgb(31,119,180)", "rgb(255,127,14)"
BLUE_A, ORANGE_A = "rgba(31,119,180,0.4)", "rgba(255,127,14,0.4)"
FONT = "DejaVu Sans, Verdana, sans-serif"


def fx(px):
    return (px - OFF) / W


def fy(py):
    return 1 - (py - OFF) / H


def step_outline(start, width, heights):
    edges = [start + k * width for k in range(len(heights) + 1)]
    xs = [edges[0]] + edges[:-1] + [edges[-1]]
    ys = [0] + list(heights) + [0]
    return xs, ys


fig = go.Figure()
shapes, annotations = [], []
layout_axes = {}

for i in range(30):
    r, c = divmod(i, 6)
    n = i + 1
    xname = "x" if n == 1 else f"x{n}"
    yname = "y" if n == 1 else f"y{n}"
    left = COL0 + c * COL_STEP
    top = ROW0 + r * ROW_STEP

    series = [
        (MAL_BIN_START[i], MAL_BIN_WIDTH[i], MAL_HEIGHTS[i], MAL_KDE[i], BLUE, BLUE_A),
        (BEN_BIN_START[i], BEN_BIN_WIDTH[i], BEN_HEIGHTS[i], BEN_KDE[i], ORANGE, ORANGE_A),
    ]
    for start, width, heights, kde, col, col_a in series:
        xs, ys = step_outline(start, width, heights)
        fig.add_trace(go.Scatter(x=xs, y=ys, mode="lines", line=dict(width=0, shape="hv"),
                                 fill="tozeroy", fillcolor=col_a, xaxis=xname, yaxis=yname,
                                 showlegend=False, hoverinfo="skip"))
        fig.add_trace(go.Scatter(x=[p[0] for p in kde], y=[p[1] for p in kde], mode="lines",
                                 line=dict(color=col, width=2.4, shape="spline", smoothing=1.0),
                                 xaxis=xname, yaxis=yname, showlegend=False, hoverinfo="skip"))

    common = dict(showline=True, linecolor="black", linewidth=1.3, mirror=True, ticks="outside",
                  ticklen=5.5, tickwidth=1.3, tickcolor="black", showgrid=False, zeroline=False,
                  tickfont=dict(family=FONT, size=16, color="black"), automargin=False, fixedrange=True)
    layout_axes["xaxis" if n == 1 else f"xaxis{n}"] = dict(
        common, domain=[fx(left), fx(left + AX_W)], range=X_RANGE[i], anchor=yname,
        tickvals=X_TICKS[i], ticktext=[format(v, X_FMT[i]) for v in X_TICKS[i]],
        title=dict(text=FEATURES[i], font=dict(family=FONT, size=16, color="black"), standoff=6))
    layout_axes["yaxis" if n == 1 else f"yaxis{n}"] = dict(
        common, domain=[fy(top + AX_H), fy(top)], range=[0, Y_MAX[i]], anchor=xname,
        tickvals=Y_TICKS[i], ticktext=[format(v, Y_FMT[i]) for v in Y_TICKS[i]],
        title=dict(text="Density", font=dict(family=FONT, size=16, color="black"), standoff=8))

    # subplot title
    annotations.append(dict(text=FEATURES[i], x=fx(left + AX_W / 2), y=fy(top - 15), xref="paper", yref="paper",
                            xanchor="center", yanchor="middle", showarrow=False,
                            font=dict(family=FONT, size=20, color="black")))

    # legend box (upper right)
    lx1 = left + AX_W - 9
    lx0 = lx1 - 144.5
    ly0 = top + 8.7
    ly1 = ly0 + 54.3
    shapes.append(dict(type="rect", xref="paper", yref="paper", x0=fx(lx0), x1=fx(lx1), y0=fy(ly1), y1=fy(ly0),
                       fillcolor="rgba(255,255,255,0.8)", line=dict(color="#cccccc", width=1.3), layer="above"))
    for k, (label, col_a) in enumerate(zip(SERIES, [BLUE_A, ORANGE_A])):
        cy = ly0 + 13.5 + 25 * k
        shapes.append(dict(type="rect", xref="paper", yref="paper", x0=fx(lx0 + 6.6), x1=fx(lx0 + 40.2),
                           y0=fy(cy + 5.8), y1=fy(cy - 5.8), fillcolor=col_a, line=dict(width=0), layer="above"))
        annotations.append(dict(text=label, x=fx(lx0 + 55), y=fy(cy), xref="paper", yref="paper",
                                xanchor="left", yanchor="middle", showarrow=False,
                                font=dict(family=FONT, size=16, color="black")))

fig.update_layout(
    width=W, height=H, autosize=False,
    margin=dict(l=0, r=0, t=0, b=0),
    paper_bgcolor="white", plot_bgcolor="white",
    showlegend=False,
    font=dict(family=FONT, size=16, color="black"),
    shapes=shapes, annotations=annotations,
    **layout_axes,
)

fig.write_html("out.html")
